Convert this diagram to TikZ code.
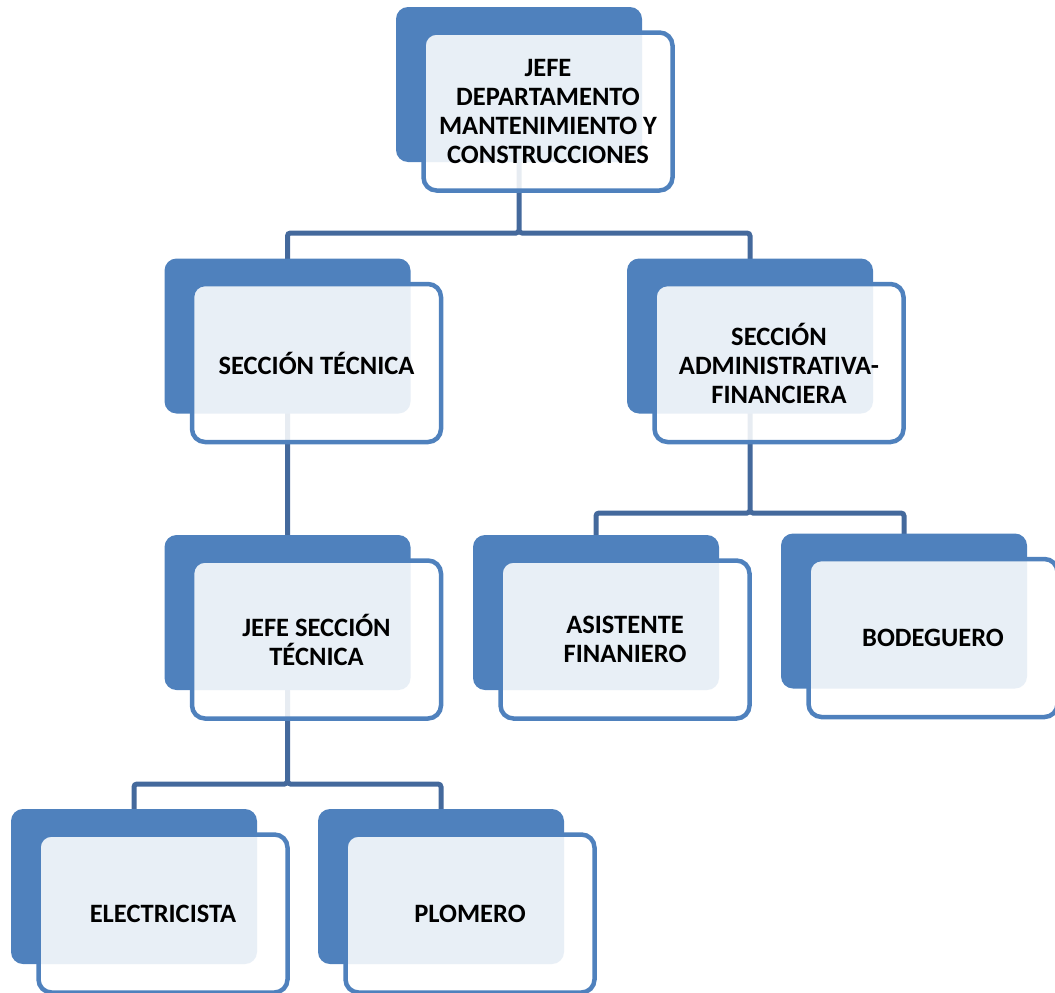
\documentclass[tikz,border=0pt]{standalone}
\usepackage{fontspec}
\setmainfont{Carlito}
\usepackage{tikz}
\usetikzlibrary{positioning}
\usetikzlibrary{backgrounds}

\definecolor{boxblue}{HTML}{4F81BD}
\definecolor{linkblue}{HTML}{44699C}

\begin{document}
\begin{tikzpicture}[x=1pt,y=-1pt,
	back node/.style={rectangle,rounded corners=12pt,fill=boxblue,
		minimum width=246pt,minimum height=155pt,inner sep=0pt},
	main node/.style={rectangle,rounded corners=13pt,draw=boxblue,line width=4.5pt,
		fill=white,fill opacity=0.875,text opacity=1,
		minimum width=249pt,minimum height=158pt,inner sep=0pt,
		align=center,font=\fontsize{26.5}{29}\selectfont\bfseries},
	link/.style={draw=linkblue,line width=5pt,rounded corners=3pt}]
	
	\useasboundingbox (0,0) rectangle (1055,993);
	
	% back plates
	\node[back node] (jefe-b) at (519,84.5) {};
	\node[back node] (sectec-b) at (287.5,336) {};
	\node[back node] (secadm-b) at (750,336) {};
	\node[back node] (jefetec-b) at (287.5,612.5) {};
	\node[back node] (asist-b) at (596,612.5) {};
	\node[back node] (bodeg-b) at (904,611) {};
	\node[back node] (elec-b) at (134,886.5) {};
	\node[back node] (plom-b) at (441,886.5) {};
	
	% connectors, behind the plates
	\begin{scope}[on background layer]
	\path[link]
	(jefe-b.center) -- ++(0,148.5) -| (sectec-b.center)
	(jefe-b.center) -- ++(0,148.5) -| (secadm-b.center)
	(sectec-b.center) -- (jefetec-b.center)
	(secadm-b.center) -- ++(0,177) -| (asist-b.center)
	(secadm-b.center) -- ++(0,177) -| (bodeg-b.center)
	(jefetec-b.center) -- ++(0,171.5) -| (elec-b.center)
	(jefetec-b.center) -- ++(0,171.5) -| (plom-b.center);
	\end{scope}
	
	% front boxes
	\node[main node] (jefe) at (548,111.5) {JEFE\\DEPARTAMENTO\\MANTENIMIENTO Y\\CONSTRUCCIONES};
	\node[main node] (sectec) at (316.5,363) {SECCIÓN TÉCNICA};
	\node[main node] (secadm) at (779,363) {SECCIÓN\\ADMINISTRATIVA-\\FINANCIERA};
	\node[main node] (jefetec) at (316.5,639.5) {JEFE SECCIÓN\\TÉCNICA};
	\node[main node] (asist) at (625,639.5) {ASISTENTE\\FINANIERO};
	\node[main node] (bodeg) at (933,638) {BODEGUERO};
	\node[main node] (elec) at (163,913.5) {ELECTRICISTA};
	\node[main node] (plom) at (470,913.5) {PLOMERO};
\end{tikzpicture}
\end{document}
